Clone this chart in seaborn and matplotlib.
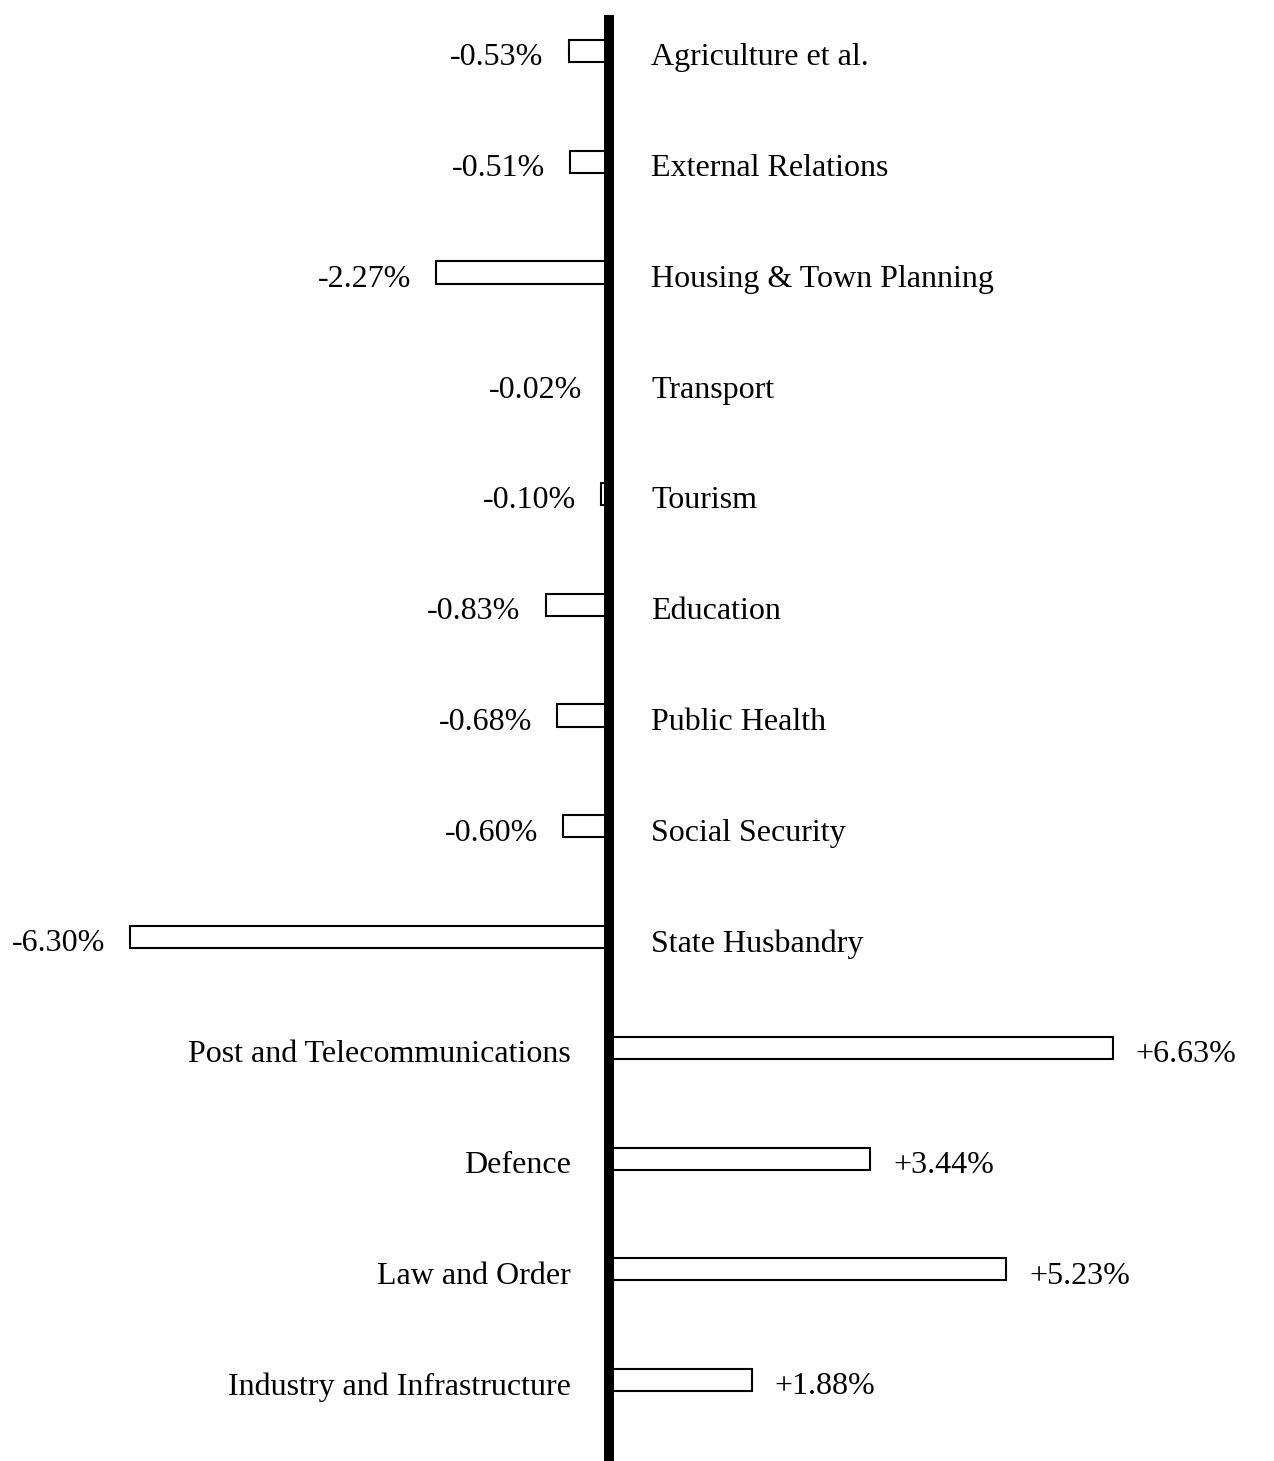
import matplotlib
matplotlib.use("Agg")
import matplotlib.pyplot as plt
import seaborn as sns
import pandas as pd

# Sectors and change in share (percent points)
sectors = ["Agriculture et al.", "External Relations", "Housing & Town Planning",
           "Transport", "Tourism", "Education", "Public Health", "Social Security",
           "State Husbandry", "Post and Telecommunications", "Defence",
           "Law and Order", "Industry and Infrastructure"]
changes = [-0.53, -0.51, -2.27, -0.02, -0.10, -0.83, -0.68, -0.60,
           -6.30, 6.63, 3.44, 5.23, 1.88]
value_labels = ["-0.53%", "-0.51%", "-2.27%", "-0.02%", "-0.10%", "-0.83%",
                "-0.68%", "-0.60%", "-6.30%", "+6.63%", "+3.44%", "+5.23%", "+1.88%"]

df = pd.DataFrame({"sector": sectors, "change": changes})

sns.set_style("white")
plt.rcParams['font.family'] = ['Liberation Serif', 'DejaVu Serif']
plt.rcParams['text.color'] = 'black'

fig = plt.figure(figsize=(12.74, 14.61), dpi=100)
ax = fig.add_axes([0, 0, 1, 1])

sns.barplot(data=df, x="change", y="sector", orient="h", color="white",
            saturation=1, edgecolor="black", linewidth=1.5, width=0.2, ax=ax)

ax.set_xlim(-8.01, 8.75)
ax.set_ylim(12.73, -0.46)

# thick centre axis
ax.axvline(0, ymin=0, ymax=0.99, color="black", linewidth=7.2,
           solid_capstyle="butt", zorder=5)

fs = 23
dy = 0.03
for i, (name, val, lab) in enumerate(zip(sectors, changes, value_labels)):
    if val < 0:
        ax.text(val - 0.33, i + dy, lab, ha="right", va="center_baseline",
                fontsize=fs, color="black")
        ax.text(0.56, i + dy, name, ha="left", va="center_baseline",
                fontsize=fs, color="black")
    else:
        ax.text(val + 0.3, i + dy, lab, ha="left", va="center_baseline",
                fontsize=fs, color="black")
        ax.text(-0.5, i + dy, name, ha="right", va="center_baseline",
                fontsize=fs, color="black")

ax.set_axis_off()
fig.savefig("out.png", dpi=100)
